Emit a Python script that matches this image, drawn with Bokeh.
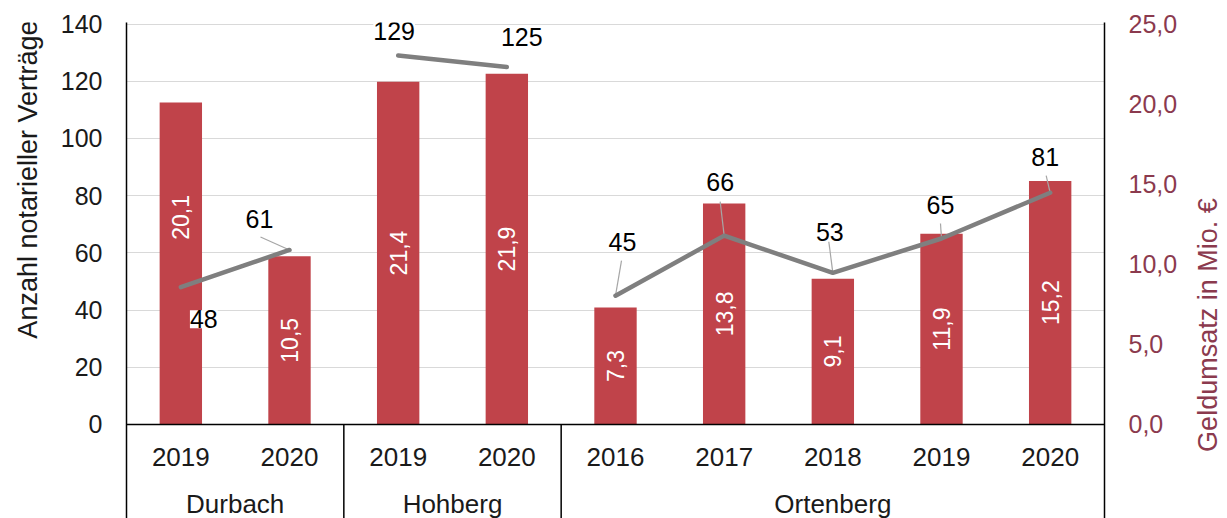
import math
from bokeh.plotting import figure
from bokeh.layouts import row
from bokeh.models import (FactorRange, Range1d, LinearAxis, FixedTicker, Span,
                          LabelSet, ColumnDataSource, CustomJSTickFormatter)
from bokeh.core.properties import value
from bokeh.embed import file_html
from bokeh.resources import INLINE

# ---------------- data ----------------
municipalities = ["Durbach", "Hohberg", "Ortenberg"]
years = [["2019", "2020"], ["2019", "2020"], ["2016", "2017", "2018", "2019", "2020"]]
contracts = [[48, 61], [129, 125], [45, 66, 53, 65, 81]]          # Anzahl notarieller Verträge (left axis)
turnover = [[20.1, 10.5], [21.4, 21.9], [7.3, 13.8, 9.1, 11.9, 15.2]]  # Geldumsatz in Mio. € (right axis)
left_ticks = [0, 20, 40, 60, 80, 100, 120, 140]
right_ticks = [0, 5, 10, 15, 20, 25]
left_title = "Anzahl notarieller Verträge"
right_title = "Geldumsatz in Mio. €"

# ---------------- style / layout ----------------
FONT = "Liberation Sans"
FS = 25        # tick / data labels
FS_CAT = 26    # category labels
FS_T = 27      # axis titles
BAR = "#C0434A"
LINE = "#7F7F7F"
DARKRED = "#8B3A4E"
TOTAL_W, H = 1227, 518
WL, WR = 52, 40                  # side strips holding the axis titles
W = TOTAL_W - WL - WR            # main figure width
# frame geometry in page pixels
PL, PR, FT, Y0, FB = 126, 1104, 24, 424, 518
FL, FR = PL - WL, PR - WL        # in main-figure pixels

factors = [(m, y) for m, ys in zip(municipalities, years) for y in ys]
flat_contracts = [v for g in contracts for v in g]
flat_turnover = [v for g in turnover for v in g]
n = len(factors)
unit_x = (FR - FL) / n
LMAX, RMAX = left_ticks[-1], right_ticks[-1]
uy_l = (Y0 - FT) / LMAX
uy_r = (Y0 - FT) / RMAX
TOP_PAD = 1.5  # px above the top tick so that its grid line is visible
l_start, l_end = -(FB - Y0) / uy_l, LMAX + TOP_PAD / uy_l
r_start, r_end = -(FB - Y0) / uy_r, RMAX + TOP_PAD / uy_r


def px_y(fy):
    return (Y0 - fy) / uy_l


p = figure(width=W, height=H,
           x_range=FactorRange(factors=factors, group_padding=0, range_padding=0, factor_padding=0),
           y_range=Range1d(l_start, l_end),
           x_axis_location=None, output_backend="svg", toolbar_location=None,
           min_border_left=FL, min_border_right=W - FR, min_border_top=int(FT - TOP_PAD),
           min_border_bottom=0)
p.outline_line_color = None
p.background_fill_color = "white"
p.border_fill_color = "white"
for g in p.xgrid:
    g.visible = False

laxis = p.yaxis[0]
laxis.ticker = FixedTicker(ticks=left_ticks)
p.ygrid[0].ticker = FixedTicker(ticks=left_ticks[1:])
p.ygrid[0].grid_line_color = "#D9D9D9"
p.ygrid[0].grid_line_width = 1.2

p.extra_y_ranges = {"right": Range1d(r_start, r_end)}
raxis = LinearAxis(y_range_name="right", ticker=FixedTicker(ticks=right_ticks),
                   formatter=CustomJSTickFormatter(code="return tick.toFixed(1).replace('.', ',');"))
p.add_layout(raxis, "right")

for ax, col in ((laxis, "#1A1A1A"), (raxis, DARKRED)):
    ax.axis_line_color = "black"
    ax.axis_line_width = 1.5
    ax.major_tick_line_color = None
    ax.minor_tick_line_color = None
    ax.major_tick_out = 0
    ax.major_tick_in = 0
    ax.major_label_standoff = 24
    ax.major_label_text_font = FONT
    ax.major_label_text_font_size = f"{FS}px"
    ax.major_label_text_color = col

# bars
bar_shift = {0: -46}
src_bar = ColumnDataSource(dict(
    x=factors, top=flat_turnover, mid=[v / 2 for v in flat_turnover],
    lbl=[f"{v:.1f}".replace(".", ",") for v in flat_turnover],
    yoff=[bar_shift.get(i, 0) for i in range(n)]))
p.vbar(x="x", top="top", width=0.39, source=src_bar, y_range_name="right",
       fill_color=BAR, line_color=None)
p.text(x="x", y="mid", text="lbl", source=src_bar, y_range_name="right",
       angle=math.pi / 2, text_align="center", text_baseline="middle",
       text_color="white", text_font=value(FONT), text_font_size="23px", y_offset="yoff")

# leader lines (offsets in px from the point: right / down)
leaders = {1: (-29, -13), 4: (6, -35), 5: (-4, -34), 6: (-4, -31), 7: (-1, -15), 8: (-4, -17)}
lx0, ly0, lx1, ly1 = [], [], [], []
for i, (dx, dy) in leaders.items():
    v = flat_contracts[i]
    lx0.append(i + 0.5 + dx / unit_x)
    ly0.append(v - dy / uy_l)
    lx1.append(i + 0.5)
    ly1.append(v)
p.segment(x0=lx0, y0=ly0, x1=lx1, y1=ly1, line_color="#A6A6A6", line_width=1.2)

# lines per municipality
for m, ys, vals in zip(municipalities, years, contracts):
    p.line(x=[(m, y) for y in ys], y=vals, line_color=LINE, line_width=4.5,
           line_cap="round", line_join="round")

# line labels (offsets in px: right / down)
lab_off = [(23, 32), (-30, -31), (-4, -24), (15, -30), (7, -54), (-4, -54), (-3, -41), (-1, -33), (-5, -36)]
src_lab = ColumnDataSource(dict(
    x=[i + 0.5 + dx / unit_x for i, (dx, dy) in enumerate(lab_off)],
    y=[v - dy / uy_l for v, (dx, dy) in zip(flat_contracts, lab_off)],
    t=[str(v) for v in flat_contracts]))
p.add_layout(LabelSet(x="x", y="y", text="t", source=src_lab, text_align="center",
                      text_baseline="middle", text_font=value(FONT), text_font_size=f"{FS}px",
                      text_color="black", background_fill_color="white"))

# horizontal axis line & group separators
p.add_layout(Span(location=0, dimension="width", line_color="black", line_width=1.5))
bounds = []
acc = 0
for ys in years[:-1]:
    acc += len(ys)
    bounds.append(acc)
p.segment(x0=bounds, y0=[0] * len(bounds), x1=bounds, y1=[l_start] * len(bounds),
          line_color="black", line_width=1.5)

# category labels
p.text(x=factors, y=[px_y(457)] * n, text=[f[1] for f in factors], text_align="center",
       text_baseline="middle", text_font=value(FONT), text_font_size=f"{FS_CAT}px", text_color="#1A1A1A")
centers = []
acc = 0
for ys in years:
    centers.append(acc + len(ys) / 2)
    acc += len(ys)
p.text(x=centers, y=[px_y(504)] * len(centers), text=municipalities, text_align="center",
       text_baseline="middle", text_font=value(FONT), text_font_size=f"{FS_CAT}px", text_color="#1A1A1A")


# side strips with the axis titles
def title_strip(width, cx, cy, text, color):
    s = figure(width=width, height=H, x_range=Range1d(0, width), y_range=Range1d(0, H),
               x_axis_location=None, y_axis_location=None, output_backend="svg",
               toolbar_location=None, min_border=0)
    s.min_border_left = s.min_border_right = s.min_border_top = s.min_border_bottom = 0
    s.outline_line_color = None
    s.background_fill_color = "white"
    s.border_fill_color = "white"
    s.grid.visible = False
    s.text(x=[cx], y=[H - cy], text=[text], angle=math.pi / 2, text_align="center",
           text_baseline="middle", text_font=value(FONT), text_font_size=f"{FS_T}px",
           text_color=color)
    return s


left_strip = title_strip(WL, 27, 164, left_title, "#1A1A1A")
right_strip = title_strip(WR, 1207 - (TOTAL_W - WR), 316, right_title, DARKRED)

layout = row(left_strip, p, right_strip, spacing=0)

open("out.html", "w").write(file_html(layout, INLINE))
